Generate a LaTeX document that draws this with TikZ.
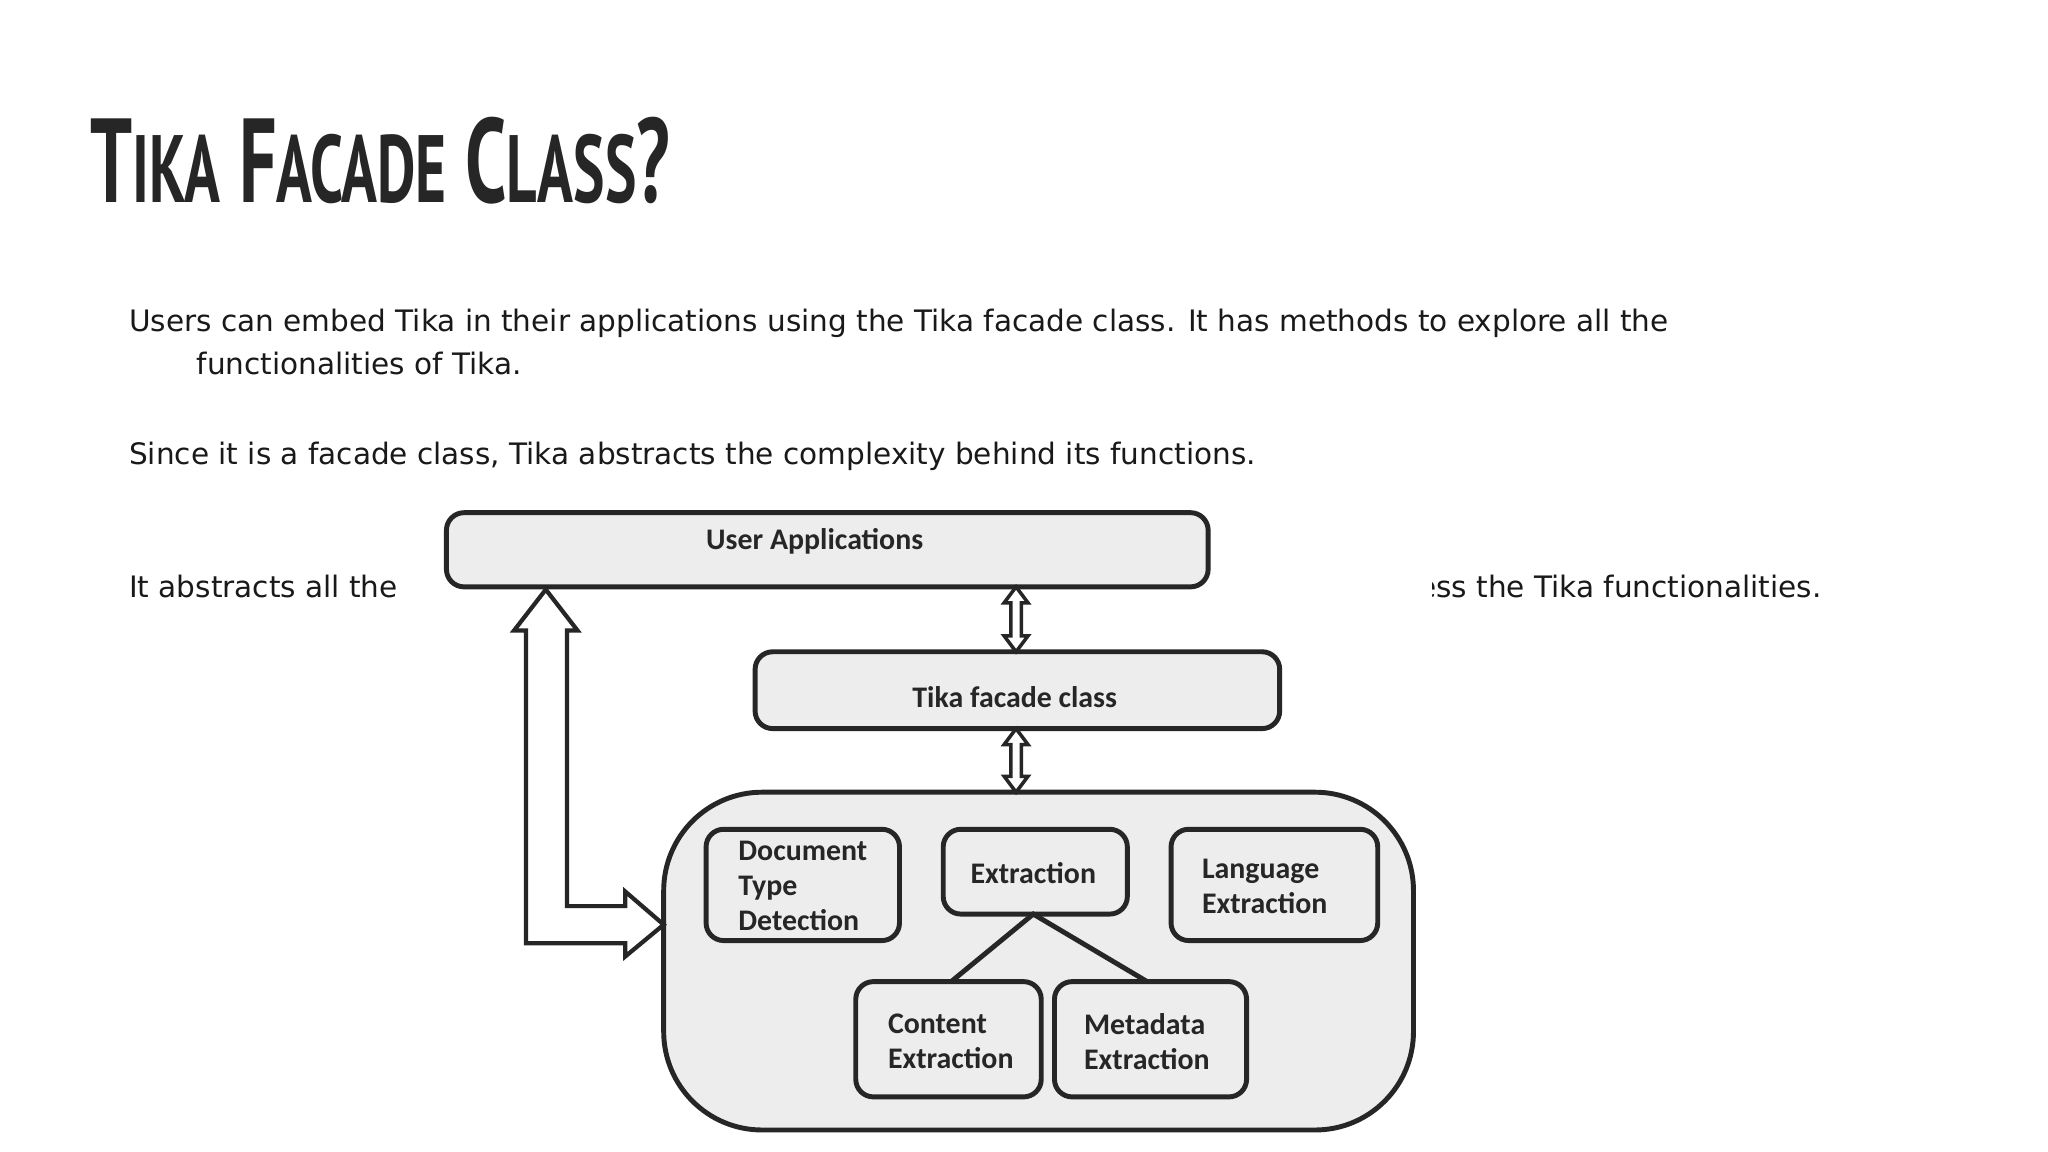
\documentclass[tikz,border=0pt]{standalone}
\usepackage{fontspec}
\setmainfont{DejaVu Sans}
\newfontfamily\ttl{PT Sans}
\newfontfamily\lbl{Carlito}
\begin{document}
\begin{tikzpicture}[x=0.013247cm,y=-0.013247cm,
 box/.style={draw=black!85,line width=1.4pt,fill=black!7,rounded corners=5pt},
 lab/.style={font=\lbl\bfseries\fontsize{8.5}{10}\selectfont,text=black!85,align=left},
 body/.style={font=\fontsize{8.4}{11}\selectfont,anchor=base west,inner sep=0pt,text=black!90},
 harrow/.style={draw=black!85,line width=1.2pt,fill=white,line join=miter}]
\useasboundingbox (0,0) rectangle (1546,869.6);
\fill[white] (0,0) rectangle (1546,869.6);
\node[anchor=base west,inner sep=0pt,font=\ttl\bfseries\fontsize{34}{34}\selectfont,xscale=0.62,text=black!85] (title) at (68,153) {T\scalebox{0.8}{IKA} F\scalebox{0.8}{ACADE} C\scalebox{0.8}{LASS}?};
\node[body] (p1) at (97,250) {Users can embed Tika in their applications using the Tika facade class. It has methods to explore all the};
\node[body] (p1b) at (148,283) {functionalities of Tika.};
\node[body] (p2) at (97,351) {Since it is a facade class, Tika abstracts the complexity behind its functions.};
\node[body] (p3) at (97,451) {It abstracts all the};
\node[body] (p3b) at (1070,451) {ess the Tika functionalities.};
\fill[white] (322,372) rectangle (1077,866);
\fill[white] (1070,430) rectangle (1081,460);
% boxes
\draw[box] (337,387) rectangle (912,443);
\node[lab] (ua) at (615,409) {User Applications};
\draw[box] (570,492) rectangle (966,550);
\node[lab] (tf) at (766,526) {Tika facade class};
\draw[box,rounded corners=28pt] (501,598) rectangle (1067,853);
\draw[box] (533,626) rectangle (679,710);
\node[lab,anchor=west] (dtd) at (548,669) {Document\\Type\\Detection};
\draw[box] (712,626) rectangle (851,690);
\node[lab] (ex) at (780,659) {Extraction};
\draw[box] (884,626) rectangle (1040,710);
\node[lab,anchor=west] (le) at (898,669) {Language\\Extraction};
\draw[box] (646,741) rectangle (786,828);
\node[lab,anchor=west] (ce) at (661,786) {Content\\Extraction};
\draw[box] (796,741) rectangle (941,828);
\node[lab,anchor=west] (me) at (809,786) {Metadata\\Extraction};
\coordinate (exb) at (780,690);
\coordinate (ceT) at (718,741);
\coordinate (meT) at (866,741);
\draw[line width=1.4pt,black!85] (ceT) -- (exb) -- (meT);
% double arrows
\foreach \a/\b in {443/492,550/598}{
\draw[harrow,line width=1pt] (767,\a) -- (776,\a+12) -- (771,\a+12) -- (771,\b-12) -- (776,\b-12) -- (767,\b) -- (758,\b-12) -- (763,\b-12) -- (763,\a+12) -- (758,\a+12) -- cycle;}
% big L arrow
\draw[harrow] (412,445) -- (436,476) -- (428,476) -- (428,684) -- (472,684) -- (472,673) -- (501,698) -- (472,722) -- (472,712) -- (397,712) -- (397,476) -- (388,476) -- cycle;
\end{tikzpicture}
\end{document}
